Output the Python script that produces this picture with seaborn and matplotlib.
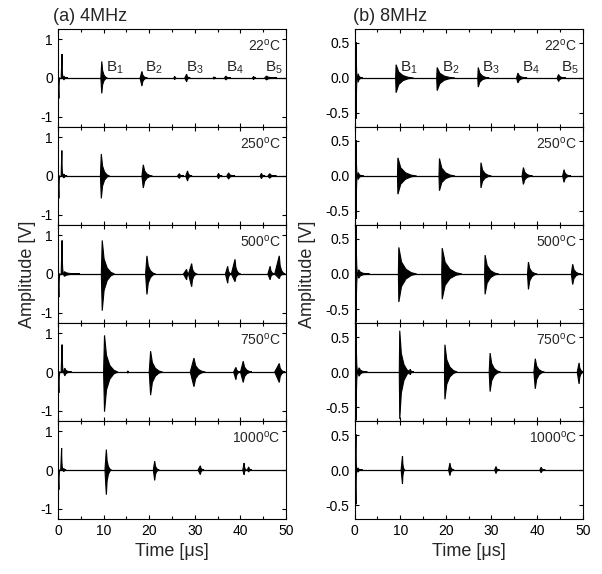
import matplotlib
matplotlib.use("Agg")
import matplotlib.pyplot as plt
from matplotlib.ticker import MultipleLocator
import seaborn as sns
import pandas as pd

# echo bursts: (onset, peak time, end, top, bottom)  [us, V]
temps = ["22", "250", "500", "750", "1000"]

a_22 = [(0.05, 0.2, 0.4, 0.0, -0.53), (0.7, 0.9, 1.1, 0.62, 0.0), (1.1, 1.3, 2.2, 0.05, -0.05),
        (9.4, 9.6, 10.8, 0.43, -0.40), (18.0, 18.4, 19.6, 0.17, -0.21),
        (25.4, 25.6, 25.9, 0.04, -0.04), (27.8, 28.2, 29.0, 0.10, -0.10),
        (34.0, 34.2, 34.6, 0.03, -0.03), (36.5, 36.8, 37.9, 0.05, -0.05),
        (42.6, 42.9, 43.4, 0.04, -0.04), (45.3, 45.7, 48.0, 0.05, -0.05)]
a_250 = [(0.05, 0.2, 0.4, 0.0, -0.58), (0.7, 0.85, 1.1, 0.66, 0.0), (1.1, 1.3, 2.0, 0.05, -0.05),
         (9.3, 9.5, 11.3, 0.57, -0.58), (18.4, 18.7, 20.7, 0.29, -0.31),
         (26.2, 26.6, 27.6, 0.06, -0.06), (28.0, 28.4, 29.4, 0.13, -0.13),
         (34.9, 35.2, 36.0, 0.07, -0.07), (37.0, 37.4, 38.8, 0.08, -0.08),
         (44.3, 44.6, 45.4, 0.07, -0.07), (46.0, 46.4, 47.9, 0.06, -0.06)]
a_500 = [(0.05, 0.2, 0.45, 0.0, -0.60), (0.7, 0.9, 1.2, 0.87, 0.0), (1.2, 1.4, 4.8, 0.06, -0.06),
         (9.5, 9.7, 12.4, 0.87, -0.95), (19.2, 19.5, 21.4, 0.47, -0.53),
         (27.5, 28.2, 28.8, 0.12, -0.15), (28.6, 29.3, 30.5, 0.27, -0.33),
         (36.7, 37.2, 38.0, 0.20, -0.24), (38.0, 38.8, 40.0, 0.38, -0.20),
         (46.0, 46.5, 47.5, 0.20, -0.15), (47.5, 48.5, 49.8, 0.47, -0.12)]
a_750 = [(0.05, 0.2, 0.45, 0.0, -0.54), (0.7, 0.9, 1.2, 0.71, 0.0), (1.2, 1.5, 3.0, 0.10, -0.10),
         (10.0, 10.2, 13.1, 0.95, -1.03), (15.2, 15.3, 15.5, 0.03, -0.03),
         (20.0, 20.3, 22.9, 0.54, -0.60), (29.0, 29.8, 32.3, 0.36, -0.38),
         (38.5, 39.0, 40.0, 0.12, -0.20), (40.0, 40.6, 42.5, 0.28, -0.27),
         (47.5, 48.5, 49.8, 0.22, -0.27)]
a_1000 = [(0.05, 0.2, 0.4, 0.0, -0.51), (0.6, 0.8, 1.1, 0.57, 0.0), (1.1, 1.3, 1.8, 0.04, -0.04),
          (10.3, 10.6, 11.7, 0.53, -0.64), (20.9, 21.2, 22.2, 0.23, -0.27),
          (30.7, 31.2, 32.0, 0.11, -0.12), (40.5, 40.8, 41.3, 0.18, -0.12),
          (41.5, 41.8, 42.5, 0.08, -0.05)]

b_22 = [(0.15, 0.35, 0.6, 0.51, -0.58), (0.6, 0.8, 1.8, 0.06, -0.06),
        (9.0, 9.1, 12.9, 0.19, -0.21), (18.0, 18.1, 22.0, 0.15, -0.18),
        (27.0, 27.1, 29.5, 0.15, -0.13), (35.5, 35.8, 37.8, 0.07, -0.07),
        (44.4, 44.7, 46.3, 0.05, -0.05)]
b_250 = [(0.15, 0.35, 0.6, 0.51, -0.61), (0.6, 0.8, 2.0, 0.05, -0.05),
         (9.4, 9.5, 13.6, 0.26, -0.26), (18.5, 18.6, 22.0, 0.25, -0.21),
         (27.6, 27.7, 30.0, 0.19, -0.17), (36.7, 37.0, 39.0, 0.12, -0.12),
         (45.6, 45.9, 47.4, 0.09, -0.09)]
b_500 = [(0.15, 0.35, 0.65, 0.69, -0.69), (0.65, 0.9, 3.3, 0.06, -0.06),
         (9.6, 9.7, 13.6, 0.38, -0.40), (19.1, 19.2, 23.5, 0.37, -0.36),
         (28.5, 28.6, 31.6, 0.27, -0.29), (37.9, 38.1, 40.0, 0.17, -0.22),
         (47.5, 47.8, 49.6, 0.14, -0.15)]
b_750 = [(0.15, 0.35, 0.65, 0.69, -0.69), (0.65, 1.0, 2.8, 0.06, -0.06),
         (9.8, 9.9, 12.2, 0.59, -0.67), (12.0, 12.2, 13.0, 0.04, -0.04),
         (19.7, 19.8, 22.5, 0.39, -0.39), (29.5, 29.7, 32.0, 0.27, -0.28),
         (39.3, 39.6, 41.6, 0.19, -0.24), (48.8, 49.2, 50.2, 0.13, -0.17)]
b_1000 = [(0.15, 0.3, 0.5, 0.51, -0.49), (0.5, 0.75, 1.8, 0.03, -0.03),
          (10.2, 10.5, 11.0, 0.20, -0.20), (20.6, 20.9, 21.8, 0.10, -0.08),
          (30.7, 31.0, 31.8, 0.05, -0.05), (40.6, 40.9, 41.8, 0.04, -0.04)]

left_data = [a_22, a_250, a_500, a_750, a_1000]
right_data = [b_22, b_250, b_500, b_750, b_1000]

# echo labels B1..B5 (left edge position in us)
echo_names = ["B$_{\\rm 1}$", "B$_{\\rm 2}$", "B$_{\\rm 3}$", "B$_{\\rm 4}$", "B$_{\\rm 5}$"]
a_label_t = [10.6, 19.1, 28.0, 36.8, 45.4]
b_label_t = [9.9, 19.2, 27.9, 36.6, 45.2]

time_span = [0, 50]

sns.set_theme(style="ticks")
plt.rcParams["font.family"] = ["Liberation Sans", "DejaVu Sans"]
plt.rcParams["mathtext.fontset"] = "custom"
plt.rcParams["mathtext.rm"] = "Liberation Sans"
plt.rcParams["mathtext.it"] = "Liberation Sans:italic"
plt.rcParams["axes.unicode_minus"] = False

fig, axes = plt.subplots(5, 2, figsize=(6.02, 5.74), dpi=100, sharex=True)
fig.subplots_adjust(left=0.0963, right=0.968, top=0.9495, bottom=0.0958, hspace=0, wspace=0.30)

# envelope template for the decaying part of a burst (fraction of span, fraction of peak)
decay_x = [0.15, 0.4, 0.7]
decay_y = [0.45, 0.18, 0.05]


def burst_outline(t0, tp, t1, top, bot):
    d = t1 - tp
    xs = [t0, tp] + [tp + f * d for f in decay_x] + [t1]
    up = [0, top] + [top * f for f in decay_y] + [0]
    lo = [0, bot] + [bot * f for f in decay_y] + [0]
    return xs + xs[::-1], up + lo[::-1]


def draw_panel(ax, bursts, lim, yt):
    base = pd.DataFrame({"t": time_span, "v": [0, 0]})
    sns.lineplot(data=base, x="t", y="v", ax=ax, color="black", lw=0.9)
    for b in bursts:
        px, py = burst_outline(*b)
        ax.fill(px, py, color="black", lw=0.8, zorder=3, clip_on=True)
    ax.set_xlim(0, 50)
    ax.set_ylim(-lim, lim)
    ax.set_yticks(yt)
    ax.xaxis.set_major_locator(MultipleLocator(10))
    ax.xaxis.set_minor_locator(MultipleLocator(5))
    ax.tick_params(which="both", direction="in", top=True, right=True,
                   width=0.8, labelsize=10, color="black", labelcolor="black")
    ax.tick_params(which="major", length=3)
    ax.tick_params(which="minor", length=2)
    ax.set_xlabel("")
    ax.set_ylabel("")
    for s in ax.spines.values():
        s.set_color("black")
        s.set_linewidth(0.8)


for i in range(5):
    axl = axes[i, 0]
    axr = axes[i, 1]
    draw_panel(axl, left_data[i], 1.27, [-1, 0, 1])
    draw_panel(axr, right_data[i], 0.70, [-0.5, 0.0, 0.5])
    axr.set_yticklabels(["-0.5", "0.0", "0.5"])
    for ax in (axl, axr):
        ax.text(0.975, 0.91, temps[i] + "$^{\\rm o}$C", transform=ax.transAxes,
                ha="right", va="top", fontsize=10)

for name, t in zip(echo_names, a_label_t):
    axes[0, 0].text(t, 0.27, name, fontsize=11, ha="left", va="center")
for name, t in zip(echo_names, b_label_t):
    axes[0, 1].text(t, 0.15, name, fontsize=11, ha="left", va="center")

for ax in axes[-1]:
    ax.set_xlabel("Time [μs]", fontsize=13)
    ax.set_xticks([0, 10, 20, 30, 40, 50])

fig.text(53 / 602, 1 - 21 / 574, "(a) 4MHz", fontsize=13, ha="left", va="baseline")
fig.text(353 / 602, 1 - 21 / 574, "(b) 8MHz", fontsize=13, ha="left", va="baseline")
fig.text(27 / 602, 1 - 274 / 574, "Amplitude [V]", fontsize=13, rotation=90, ha="center", va="center")
fig.text(308 / 602, 1 - 274 / 574, "Amplitude [V]", fontsize=13, rotation=90, ha="center", va="center")

fig.savefig("out.png", dpi=100)
